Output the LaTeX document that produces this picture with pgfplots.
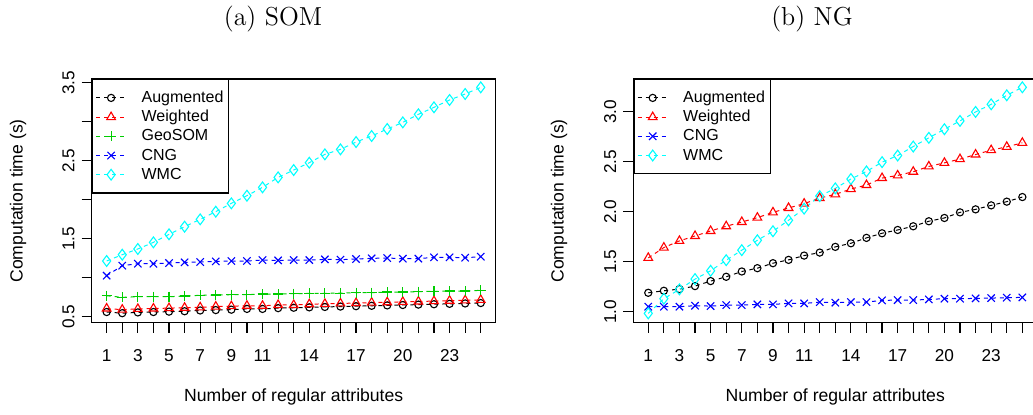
\documentclass[border=0pt]{standalone}
\usepackage{fontspec}
\setsansfont{Liberation Sans}
\usepackage{pgfplots}
\usepackage{pgfplotstable}
\pgfplotsset{compat=1.18}

\definecolor{rred}{RGB}{255,0,0}
\definecolor{rgreen}{RGB}{0,205,0}
\definecolor{rblue}{RGB}{0,0,255}
\definecolor{rcyan}{RGB}{0,255,255}

% (a) SOM
\pgfplotstableread{
x  aug   wei   geo   cng   wmc
1  0.560 0.605 0.769 1.026 1.214
2  0.545 0.590 0.748 1.154 1.295
3  0.555 0.600 0.756 1.179 1.368
4  0.560 0.605 0.756 1.179 1.453
5  0.565 0.610 0.756 1.188 1.556
6  0.570 0.615 0.765 1.197 1.654
7  0.580 0.620 0.774 1.201 1.748
8  0.585 0.630 0.778 1.209 1.846
9  0.590 0.635 0.782 1.214 1.953
10 0.600 0.640 0.782 1.214 2.051
11 0.600 0.640 0.791 1.226 2.158
12 0.610 0.650 0.791 1.222 2.286
13 0.615 0.650 0.795 1.226 2.380
14 0.620 0.660 0.799 1.226 2.474
15 0.625 0.665 0.799 1.235 2.581
16 0.630 0.670 0.803 1.231 2.645
17 0.635 0.675 0.808 1.239 2.739
18 0.640 0.680 0.808 1.248 2.816
19 0.645 0.685 0.816 1.252 2.906
20 0.650 0.690 0.816 1.244 2.991
21 0.655 0.695 0.821 1.244 3.094
22 0.660 0.700 0.825 1.261 3.184
23 0.665 0.705 0.829 1.261 3.278
24 0.670 0.710 0.829 1.256 3.355
25 0.675 0.715 0.838 1.269 3.440
}\somdata

% (b) NG
\pgfplotstableread{
x  aug   wei   cng   wmc
1  1.189 1.538 1.050 0.983
2  1.209 1.641 1.050 1.130
3  1.226 1.708 1.050 1.223
4  1.256 1.757 1.060 1.326
5  1.306 1.807 1.056 1.409
6  1.349 1.854 1.066 1.515
7  1.402 1.897 1.066 1.615
8  1.435 1.940 1.073 1.714
9  1.485 1.993 1.073 1.804
10 1.518 2.037 1.083 1.914
11 1.561 2.080 1.083 2.030
12 1.591 2.136 1.096 2.156
13 1.648 2.173 1.090 2.233
14 1.684 2.226 1.096 2.326
15 1.738 2.266 1.096 2.402
16 1.784 2.336 1.113 2.495
17 1.817 2.362 1.116 2.561
18 1.854 2.399 1.116 2.651
19 1.904 2.452 1.123 2.738
20 1.937 2.488 1.130 2.824
21 1.993 2.525 1.130 2.907
22 2.023 2.571 1.133 2.997
23 2.063 2.615 1.136 3.073
24 2.100 2.648 1.140 3.163
25 2.146 2.688 1.143 3.243
}\ngdata

\pgfplotsset{
  rplot/.style={
    scale only axis, width=202pt, height=121.85pt,
    xmin=0.04, xmax=25.96,
    axis line style={line width=0.6pt},
    tick style={line width=0.6pt, black},
    tick align=outside, major tick length=5pt,
    xtick pos=left, ytick pos=left,
    xtick={1,...,25},
    xticklabels={1,,3,,5,,7,,9,,11,,,14,,,17,,,20,,,23,,},
    ticklabel style={font=\sffamily\fontsize{8.6}{10}\selectfont},
    label style={font=\sffamily\fontsize{8.8}{10}\selectfont},
    xticklabel style={yshift=-5pt},
    yticklabel style={rotate=90, anchor=south},
    xlabel={Number of regular attributes},
    ylabel={Computation time (s)},
    xlabel style={at={(axis description cs:0.5,-0.3049)}, anchor=center},
    legend cell align=left,
    legend style={at={(0,1)}, anchor=north west, draw=black, line width=0.6pt,
      fill=white, inner xsep=1.65pt, inner ysep=4.35pt, row sep=0pt,
      font=\sffamily\fontsize{8}{9}\selectfont,
      nodes={text height=6.6pt, text depth=2pt, inner ysep=0.5pt, inner xsep=1pt},
      /tikz/every odd column/.append style={column sep=6.5pt}},
    legend image code/.code={%
      \draw[mark repeat=2,mark phase=2]
        plot coordinates {(0pt,0pt)(7.5pt,0pt)(15pt,0pt)};},
  },
  rline/.style={dash pattern=on 2pt off 2pt, line width=0.5pt,
    mark options={solid, line width=0.55pt}},
}

\begin{document}
\begin{tikzpicture}
\useasboundingbox (0,0) rectangle (516.5pt,207pt);
\clip (0,0) rectangle (516.5pt,207pt);

\node[anchor=base, font=\fontsize{13}{15}\selectfont] at (136.5pt,194.5pt) {(a) SOM};
\node[anchor=base, font=\fontsize{13}{15}\selectfont] at (406pt,194.5pt) {(b) NG};

\begin{axis}[rplot, at={(45.85pt,45.65pt)}, anchor=south west,
    ymin=0.423, ymax=3.547,
    ytick={0.5,1,1.5,2,2.5,3,3.5},
    yticklabels={0.5,,1.5,,2.5,,3.5},
    ylabel style={at={(axis description cs:-0.1824,0.5)}, anchor=center}]
  \addplot[rline, black, mark=o, mark size=1.8pt] table[x=x, y=aug] {\somdata};
  \addlegendentry{Augmented}
  \addplot[rline, rred, mark=triangle, mark size=2.5pt] table[x=x, y=wei] {\somdata};
  \addlegendentry{Weighted}
  \addplot[rline, rgreen, mark=+, mark size=2.5pt] table[x=x, y=geo] {\somdata};
  \addlegendentry{GeoSOM}
  \addplot[rline, rblue, mark=x, mark size=2.6pt] table[x=x, y=cng] {\somdata};
  \addlegendentry{CNG}
  \addplot[rline, rcyan, mark=diamond, mark size=2.7pt] table[x=x, y=wmc] {\somdata};
  \addlegendentry{WMC}
\end{axis}

\begin{axis}[rplot, at={(316.65pt,45.65pt)}, anchor=south west,
    ymin=0.89, ymax=3.326,
    ytick={1,1.5,2,2.5,3},
    yticklabels={1.0,1.5,2.0,2.5,3.0},
    ylabel style={at={(axis description cs:-0.1839,0.5)}, anchor=center}]
  \addplot[rline, black, mark=o, mark size=1.8pt] table[x=x, y=aug] {\ngdata};
  \addlegendentry{Augmented}
  \addplot[rline, rred, mark=triangle, mark size=2.5pt] table[x=x, y=wei] {\ngdata};
  \addlegendentry{Weighted}
  \addplot[rline, rblue, mark=x, mark size=2.6pt] table[x=x, y=cng] {\ngdata};
  \addlegendentry{CNG}
  \addplot[rline, rcyan, mark=diamond, mark size=2.7pt] table[x=x, y=wmc] {\ngdata};
  \addlegendentry{WMC}
\end{axis}
\end{tikzpicture}
\end{document}
